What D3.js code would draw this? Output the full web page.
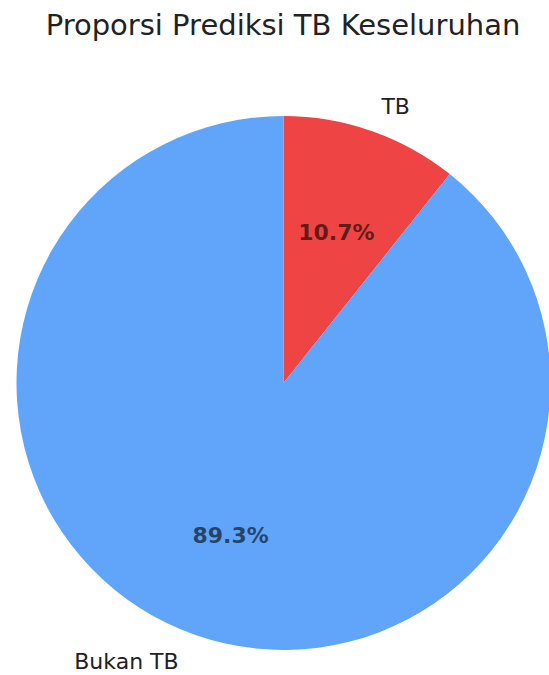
<!DOCTYPE html>
<html>
<head>
<script src="https://cdn.jsdelivr.net/npm/d3@7"></script>
<style>
  body { margin: 0; background: #fff; }
  text { font-family: "DejaVu Sans", sans-serif; }
</style>
</head>
<body>
<script>
// slice labels and their shares (percent)
var labels = ["TB", "Bukan TB"];
var values = [10.7, 89.3];
var colors = ["#ef4444", "#60a5fa"];

var width = 549, height = 675;
var cx = 283.5, cy = 383, radius = 267;

var svg = d3.select("body").append("svg")
  .attr("width", width).attr("height", height);

svg.append("text")
  .attr("x", 283).attr("y", 35)
  .attr("text-anchor", "middle")
  .attr("font-size", 29)
  .attr("fill", "#222")
  .text("Proporsi Prediksi TB Keseluruhan");

var pie = d3.pie().sort(null)(values);
var arc = d3.arc().innerRadius(0).outerRadius(radius);
var pctArc = d3.arc().innerRadius(radius * 0.6).outerRadius(radius * 0.6);
var labArc = d3.arc().innerRadius(radius * 1.1).outerRadius(radius * 1.1);

var g = svg.append("g").attr("transform", "translate(" + cx + "," + cy + ")");

g.selectAll("path").data(pie).enter().append("path")
  .attr("d", arc)
  .attr("fill", function(d, i) { return colors[i]; });

// percentage text inside slices
g.selectAll(".pct").data(pie).enter().append("text")
  .attr("class", "pct")
  .attr("x", function(d) { return pctArc.centroid(d)[0]; })
  .attr("y", function(d) { return pctArc.centroid(d)[1]; })
  .attr("dy", "0.38em")
  .attr("text-anchor", "middle")
  .attr("font-size", 22)
  .attr("font-weight", "bold")
  .attr("fill", "#000").attr("fill-opacity", 0.6)
  .text(function(d) { return d.data.toFixed(1) + "%"; });

// outer labels, nudged a bit like the original
var nudge = [1, -8];
g.selectAll(".lab").data(pie).enter().append("text")
  .attr("class", "lab")
  .attr("x", function(d, i) { return labArc.centroid(d)[0] + nudge[i]; })
  .attr("y", function(d) { return labArc.centroid(d)[1]; })
  .attr("dy", "0.38em")
  .attr("text-anchor", function(d) { return labArc.centroid(d)[0] > 0 ? "start" : "end"; })
  .attr("font-size", 22)
  .attr("fill", "#222")
  .text(function(d, i) { return labels[i]; });
</script>
</body>
</html>
